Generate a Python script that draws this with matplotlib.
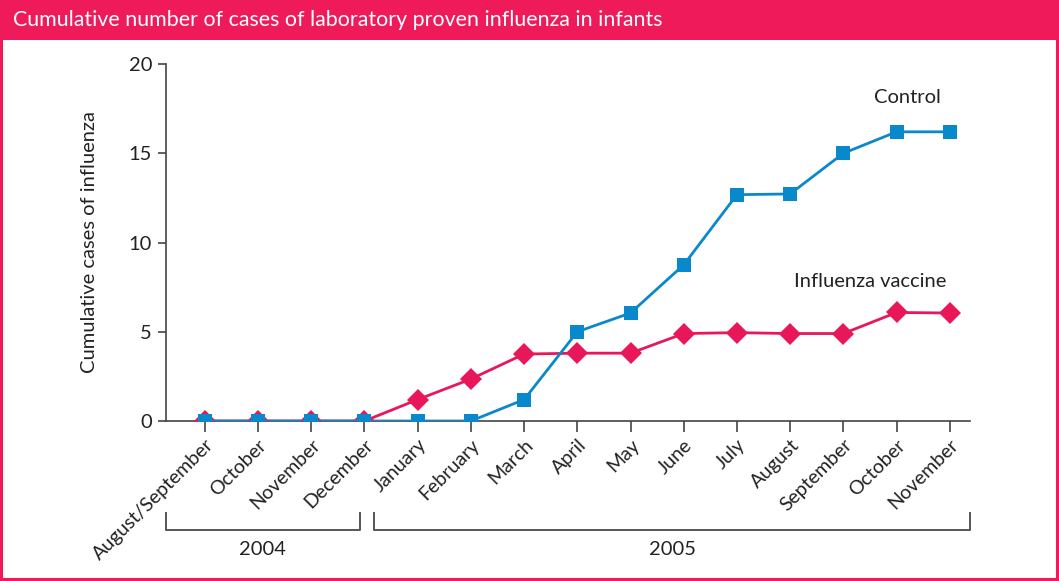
import matplotlib
matplotlib.use('Agg')
import matplotlib.pyplot as plt
from matplotlib.patches import Rectangle
from matplotlib.transforms import blended_transform_factory

plt.rcParams['font.family'] = ['Lato', 'DejaVu Sans']

months = ['August/September', 'October', 'November', 'December', 'January',
          'February', 'March', 'April', 'May', 'June', 'July', 'August',
          'September', 'October', 'November']
control = [0, 0, 0, 0, 0, 0, 1.2, 5.0, 6.05, 8.75, 12.68, 12.72, 15.0, 16.2, 16.2]
vaccine = [0, 0, 0, 0, 1.2, 2.35, 3.75, 3.8, 3.8, 4.9, 4.95, 4.9, 4.9, 6.08, 6.05]
years = ['2004', '2005']
year_spans = [(-0.73, 2.91), (3.18, 14.38)]

pink = '#E8175A'
blue = '#0A88CC'
dark = '#222222'
fs = 14.5

fig = plt.figure(figsize=(10.59, 5.81), dpi=100)

# header band + frame
fig.patches.append(Rectangle((0, 581 - 40), 1059, 40, transform=None,
                             facecolor='#EE1A5A', edgecolor='none', zorder=0))
fig.patches.append(Rectangle((1, 2), 1056, 578, transform=None,
                             facecolor='none', edgecolor='#EE1A5A', lw=2.2, zorder=5))
fig.text(13 / 1059, 1 - 20 / 581, 'Cumulative number of cases of laboratory proven influenza in infants',
         color='white', fontsize=15.4, va='center', ha='left')

ax = fig.add_axes([166 / 1059, 160 / 581, (970 - 166) / 1059, (421 - 64) / 581])
x = list(range(len(months)))
ax.plot(x, vaccine, color=pink, lw=2, marker='D', ms=11.5, markeredgewidth=0, zorder=3)
ax.plot(x, control, color=blue, lw=2, marker='s', ms=10, markeredgewidth=0, zorder=4)

ax.set_xlim(-0.73, 14.38)
ax.set_ylim(0, 20)
ax.set_yticks([0, 5, 10, 15, 20])
ax.set_xticks(x)
ax.set_xticklabels(months, rotation=45, ha='right', rotation_mode='anchor')
for s in ['top', 'right']:
    ax.spines[s].set_visible(False)
for s in ['left', 'bottom']:
    ax.spines[s].set_color('#444444')
    ax.spines[s].set_linewidth(1.2)
ax.tick_params(axis='x', length=8, width=1.2, color='#444444', labelsize=14,
               labelcolor=dark, pad=3)
ax.tick_params(axis='y', length=6, width=1.2, color='#444444', labelsize=fs,
               labelcolor=dark, pad=4)
ax.set_ylabel('Cumulative cases of influenza', fontsize=fs, color=dark, labelpad=22)

ax.text(13.2, 18.1, 'Control', fontsize=fs, color=dark, ha='center', va='center')
ax.text(12.5, 7.8, 'Influenza vaccine', fontsize=fs, color=dark, ha='center', va='center')

# year brackets below the month labels
tr = blended_transform_factory(ax.transData, ax.transAxes)
for yr, (a, b) in zip(years, year_spans):
    ax.plot([a, a, b, b], [-0.258, -0.305, -0.305, -0.258], transform=tr,
            color='#555555', lw=1.4, clip_on=False)
    ax.text((a + b) / 2, -0.36, yr, transform=tr, fontsize=fs, color=dark,
            ha='center', va='center')

fig.savefig('out.png', dpi=100)
